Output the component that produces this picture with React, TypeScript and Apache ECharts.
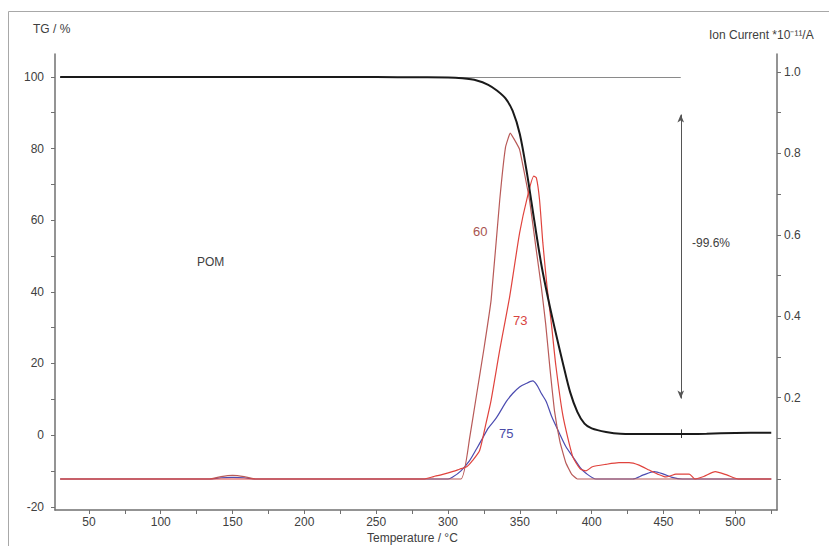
import React, { useEffect, useRef } from "react";
import * as echarts from "echarts";

// ---- Data ----
const tgTemp = [30, 250, 280, 300, 310, 320, 328, 334, 340, 345, 350, 355, 360, 365, 370, 375, 380, 385, 390, 395, 400, 410, 420, 440, 460, 480, 500, 525];
const tgValue = [100, 99.95, 99.9, 99.85, 99.6, 99.0, 97.8, 96.2, 94, 90.5, 84, 73, 60, 47.5, 37.5, 28.5, 20, 12, 6.5, 3.2, 1.9, 0.9, 0.4, 0.3, 0.3, 0.4, 0.6, 0.7];

const m60Temp = [30, 134, 142, 150, 158, 166, 309, 315, 320, 325, 330, 336, 340, 343.3, 346, 349.8, 356.7, 361.4, 365, 368, 371, 374, 378, 382, 386, 390, 525];
const m60Value = [0, 0, 0.006, 0.009, 0.006, 0, 0, 0.1, 0.21, 0.32, 0.44, 0.686, 0.815, 0.85, 0.835, 0.81, 0.686, 0.563, 0.47, 0.38, 0.27, 0.17, 0.09, 0.04, 0.012, 0, 0];

const m73Temp = [30, 283, 290, 297, 303, 308, 313, 317, 322, 326, 330, 336, 343, 349.8, 355.3, 359.7, 361.5, 363.7, 366, 369, 372, 375, 380, 386.8, 392, 396, 400.5, 410, 419, 426, 433, 440, 446, 451.7, 455, 458.6, 467.9, 472, 478, 486, 494, 502, 525];
const m73Value = [0, 0, 0.006, 0.012, 0.018, 0.024, 0.03, 0.045, 0.07, 0.13, 0.194, 0.317, 0.45, 0.604, 0.694, 0.744, 0.74, 0.686, 0.58, 0.47, 0.38, 0.28, 0.155, 0.055, 0.025, 0.02, 0.03, 0.036, 0.04, 0.04, 0.034, 0.022, 0.012, 0.005, 0.008, 0.012, 0.012, 0, 0.006, 0.018, 0.01, 0, 0];

const m75Temp = [30, 134, 142, 150, 158, 166, 300, 303, 309, 315, 320, 324, 328, 333.6, 340.5, 345, 349.8, 354, 359, 362, 365, 368.4, 372, 377.6, 382, 386.8, 392, 396, 403, 428.5, 436, 443.5, 450, 456, 463, 525];
const m75Value = [0, 0, 0.003, 0.004, 0.003, 0, 0, 0.004, 0.02, 0.045, 0.075, 0.1, 0.125, 0.15, 0.19, 0.21, 0.226, 0.234, 0.241, 0.23, 0.21, 0.19, 0.155, 0.112, 0.08, 0.055, 0.028, 0.014, 0, 0, 0.01, 0.018, 0.012, 0.004, 0, 0];

const xTickValues = [50, 75, 100, 125, 150, 175, 200, 225, 250, 275, 300, 325, 350, 375, 400, 425, 450, 475, 500, 525];
const xLabelValues = [50, 100, 150, 200, 250, 300, 350, 400, 450, 500];
const tgTickValues = [-20, -10, 0, 10, 20, 30, 40, 50, 60, 70, 80, 90, 100];
const tgLabelValues = [-20, 0, 20, 40, 60, 80, 100];
const ionTickValues = [0, 0.1, 0.2, 0.3, 0.4, 0.5, 0.6, 0.7, 0.8, 0.9, 1.0];
const ionLabelValues = [0.2, 0.4, 0.6, 0.8, 1.0];

const stepTemp = 462;
const stepTop = 89.5;
const stepBottom = 10.2;
const stepLabel = "-99.6%";

const zip = (a: number[], b: number[]) => a.map((v, i) => [v, b[i]]);

const FONT = "'Liberation Sans', Arial, sans-serif";
const AXIS_COLOR = "#707070";
const LABEL_COLOR = "#404040";

export default function App() {
  const ref = useRef<HTMLDivElement>(null);

  useEffect(() => {
    document.body.style.margin = "0";
    if (!ref.current) return;
    const chart = echarts.init(ref.current, undefined, { renderer: "svg" });

    const axisLine = { show: true, onZero: false, lineStyle: { color: AXIS_COLOR, width: 1.5 } };
    const labelBase = { color: LABEL_COLOR, fontSize: 12, fontFamily: FONT };

    const option: any = {
      animation: false,
      backgroundColor: "#ffffff",
      grid: { left: 55, right: 52, top: 54, bottom: 36 },
      xAxis: {
        type: "value",
        min: 26.4,
        max: 529,
        axisLine,
        splitLine: { show: false },
        axisTick: { show: true, length: 4, customValues: xTickValues, lineStyle: { color: AXIS_COLOR } },
        axisLabel: { ...labelBase, margin: 6, customValues: xLabelValues },
      },
      yAxis: [
        {
          type: "value",
          min: -20.9,
          max: 106.4,
          position: "left",
          axisLine,
          splitLine: { show: false },
          axisTick: { show: true, length: 4, customValues: tgTickValues, lineStyle: { color: AXIS_COLOR } },
          axisLabel: { ...labelBase, margin: 11, customValues: tgLabelValues },
        },
        {
          type: "value",
          min: -0.0762,
          max: 1.0442,
          position: "right",
          axisLine,
          splitLine: { show: false },
          axisTick: { show: true, length: 4, customValues: ionTickValues, lineStyle: { color: AXIS_COLOR } },
          axisLabel: {
            ...labelBase,
            margin: 7,
            customValues: ionLabelValues,
            formatter: (v: number) => v.toFixed(1),
          },
        },
      ],
      series: [
        {
          name: "75",
          type: "line",
          yAxisIndex: 1,
          data: zip(m75Temp, m75Value),
          showSymbol: false,
          smooth: 0.25,
          lineStyle: { color: "#4b4bb0", width: 1.2 },
          silent: true,
        },
        {
          name: "60",
          type: "line",
          yAxisIndex: 1,
          data: zip(m60Temp, m60Value),
          showSymbol: false,
          smooth: 0.1,
          lineStyle: { color: "#b85a58", width: 1.2 },
          silent: true,
        },
        {
          name: "73",
          type: "line",
          yAxisIndex: 1,
          data: zip(m73Temp, m73Value),
          showSymbol: false,
          smooth: 0.2,
          lineStyle: { color: "#e0433d", width: 1.2 },
          silent: true,
        },
        {
          name: "TG",
          type: "line",
          yAxisIndex: 0,
          data: zip(tgTemp, tgValue),
          showSymbol: false,
          smooth: 0.3,
          lineStyle: { color: "#1a1a1a", width: 2 },
          silent: true,
          z: 5,
          markLine: {
            silent: true,
            symbol: "none",
            label: { show: false },
            emphasis: { disabled: true },
            lineStyle: { type: "solid", color: "#8a8a8a", width: 1 },
            data: [
              [{ coord: [30, 100] }, { coord: [stepTemp, 100] }],
              [
                { coord: [stepTemp, stepTop], symbol: "arrow", symbolSize: [5, 8], lineStyle: { color: "#555555", width: 1 } },
                { coord: [stepTemp, stepBottom], symbol: "arrow", symbolSize: [5, 8] },
              ],
              [
                { coord: [stepTemp, -0.8], lineStyle: { color: "#333333", width: 1 } },
                { coord: [stepTemp, 1.6] },
              ],
            ],
          },
        },
      ],
      graphic: [
        {
          type: "rect",
          silent: true,
          shape: { x: 8.5, y: 11.5, width: 840, height: 560 },
          style: { fill: "none", stroke: "#a8a8a8", lineWidth: 1 },
          z: -1,
        },
        { type: "text", left: 33, top: 23, style: { text: "TG / %", fill: LABEL_COLOR, font: `12px ${FONT}` } },
        { type: "text", left: 709, top: 29, style: { text: "Ion Current *10⁻¹¹/A", fill: LABEL_COLOR, font: `12px ${FONT}` } },
        { type: "text", left: 367, top: 532, style: { text: "Temperature / °C", fill: LABEL_COLOR, font: `12px ${FONT}` } },
        { type: "text", left: 197, top: 256, style: { text: "POM", fill: LABEL_COLOR, font: `12px ${FONT}` } },
        { type: "text", left: 473, top: 225, style: { text: "60", fill: "#a85450", font: `13px ${FONT}` } },
        { type: "text", left: 513, top: 314, style: { text: "73", fill: "#d8453f", font: `13px ${FONT}` } },
        { type: "text", left: 499, top: 427, style: { text: "75", fill: "#4b4ba8", font: `13px ${FONT}` } },
        { type: "text", left: 692, top: 237, style: { text: stepLabel, fill: LABEL_COLOR, font: `12px ${FONT}` } },
      ],
    };

    chart.setOption(option);
    return () => chart.dispose();
  }, []);

  return <div ref={ref} style={{ width: 829, height: 546 }} />;
}
